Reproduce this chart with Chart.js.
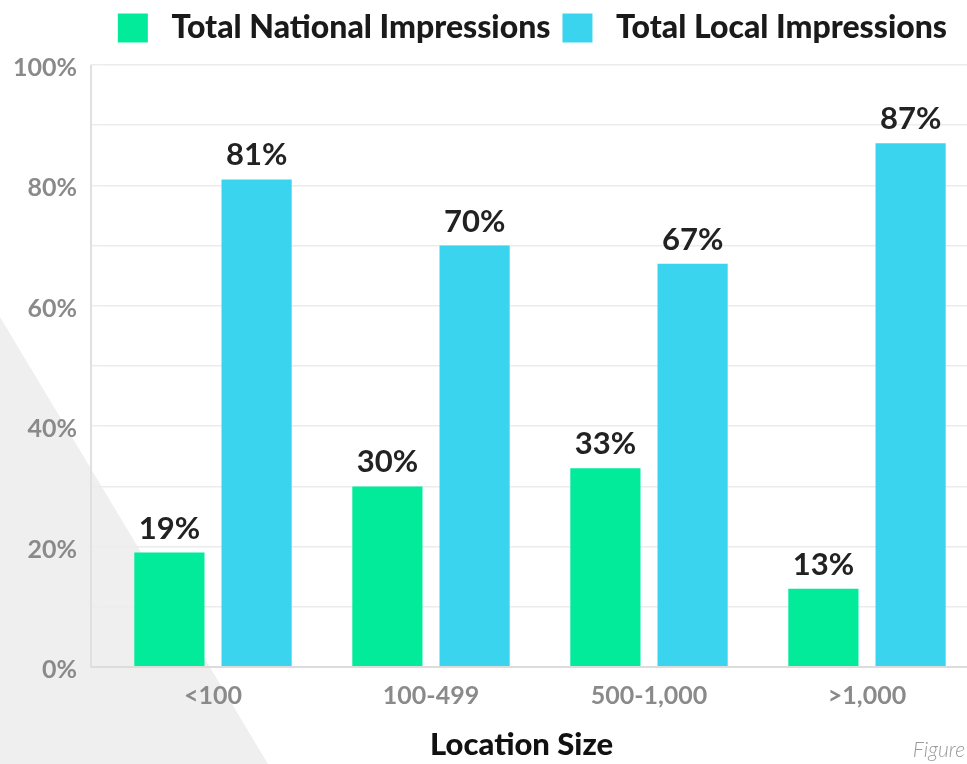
<!DOCTYPE html>
<html>
<head>
<meta charset="utf-8">
<script src="https://cdn.jsdelivr.net/npm/chart.js@4.4.0/dist/chart.umd.min.js"></script>
<style>
  html, body { margin: 0; padding: 0; background: #fff; overflow: hidden; }
  #wrap { position: relative; width: 967px; height: 764px; overflow: hidden; }
  #shade { position: absolute; left: 0; top: 0; width: 967px; height: 764px; background: #efefef;
           clip-path: polygon(0 317px, 268px 764px, 0 764px); }
  #chart { position: absolute; left: 0; top: 0; }
  #note { position: absolute; right: 2px; bottom: 3px; font: italic 300 21px Lato, sans-serif; color: #9a9a9a; }
</style>
</head>
<body>
<div id="wrap">
  <div id="shade"></div>
  <canvas id="chart" width="980" height="764"></canvas>
  <div id="note">Figure</div>
</div>
<script>
const categories = ['<100', '100-499', '500-1,000', '>1,000'];
const nationalValues = [19, 30, 33, 13];
const localValues = [81, 70, 67, 87];
const seriesNames = ['Total National Impressions', 'Total Local Impressions'];
const yTickLabels = [0, 20, 40, 60, 80, 100];

const GREEN = '#02eb9b';
const BLUE = '#3bd4ef';

// value labels above each bar
const valueLabels = {
  id: 'valueLabels',
  afterDatasetsDraw(chart) {
    const ctx = chart.ctx;
    ctx.save();
    ctx.font = 'bold 31px Lato';
    ctx.fillStyle = '#222';
    ctx.textAlign = 'center';
    ctx.textBaseline = 'alphabetic';
    chart.data.datasets.forEach((ds, i) => {
      chart.getDatasetMeta(i).data.forEach((bar, j) => {
        ctx.fillText(ds.data[j] + '%', bar.x, bar.y - 14);
      });
    });
    ctx.restore();
  }
};

// vertical axis line sits left of the plot, where the grid ticks end
const axisLine = {
  id: 'axisLine',
  beforeDatasetsDraw(chart) {
    const { ctx, chartArea } = chart;
    const x = chartArea.left - 13;
    ctx.save();
    ctx.strokeStyle = '#e0e0e0';
    ctx.lineWidth = 2;
    ctx.beginPath();
    ctx.moveTo(x, chartArea.top);
    ctx.lineTo(x, chartArea.bottom + 1);
    ctx.stroke();
    ctx.restore();
  }
};

const legendSpace = {
  id: 'legendSpace',
  beforeInit(chart) {
    const fit = chart.legend.fit;
    chart.legend.fit = function () {
      fit.bind(chart.legend)();
      this.height = 65;
    };
  },
  afterLayout(chart) {
    chart.legend.right -= 17;
  }
};

new Chart(document.getElementById('chart'), {
  type: 'bar',
  data: {
    labels: categories,
    datasets: [
      { label: seriesNames[0], data: nationalValues, backgroundColor: GREEN },
      { label: seriesNames[1], data: localValues, backgroundColor: BLUE }
    ]
  },
  options: {
    responsive: false,
    animation: false,
    categoryPercentage: 0.8,
    barPercentage: 0.805,
    layout: { padding: { left: 0, right: 4, top: 0, bottom: 0 } },
    plugins: {
      legend: {
        position: 'top',
        align: 'end',
        labels: {
          boxWidth: 30,
          boxHeight: 29,
          padding: 12,
          color: '#1a1a1a',
          font: { family: 'Lato', weight: '900', size: 32 },
          generateLabels: (chart) => {
            const items = Chart.defaults.plugins.legend.labels.generateLabels(chart);
            items.forEach(it => { it.text = ' ' + it.text; it.lineWidth = 0; });
            return items;
          }
        }
      },
      tooltip: { enabled: false }
    },
    scales: {
      x: {
        grid: { display: false, drawTicks: false },
        border: { display: false },
        ticks: {
          color: '#8a8a8a',
          font: { family: 'Lato', weight: 'bold', size: 25 },
          padding: 14
        },
        title: {
          display: true,
          text: 'Location Size     ',
          color: '#111',
          font: { family: 'Lato', weight: '900', size: 31 },
          padding: { top: 0, bottom: 0 }
        },
        afterFit: (s) => { s.height = 97; }
      },
      y: {
        min: 0,
        max: 100,
        border: { display: false },
        grid: {
          color: (c) => c.tick.value === 0 ? '#dcdcdc' : '#ececec',
          lineWidth: (c) => c.tick.value === 0 ? 2 : 1.5,
          tickLength: 13
        },
        ticks: {
          stepSize: 10,
          autoSkip: false,
          color: '#8a8a8a',
          font: { family: 'Lato', weight: 'bold', size: 25 },
          padding: 14,
          labelOffset: 3,
          callback: (v) => yTickLabels.includes(v) ? v + '%' : ''
        },
        afterFit: (s) => { s.width = 104; }
      }
    }
  },
  plugins: [valueLabels, axisLine, legendSpace]
});
</script>
</body>
</html>
